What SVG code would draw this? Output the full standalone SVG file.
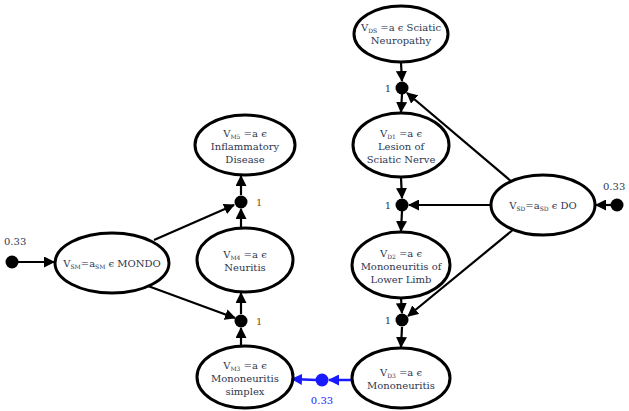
<svg xmlns="http://www.w3.org/2000/svg" width="629" height="411" viewBox="0 0 629 411">
<style>
.n ellipse{fill:#fff;stroke:#000;stroke-width:3}
.n text{font-family:"DejaVu Serif","Liberation Serif",serif;font-size:10px;fill:#2d3650;text-anchor:middle}
.sub{font-size:6px}
.e{stroke:#000;stroke-width:2.2;fill:none;marker-end:url(#ah)}
.b{stroke:#1a1aff;stroke-width:2.5;fill:none;marker-end:url(#ahb)}
.dot{fill:#000}
.lbl{font-family:"DejaVu Serif","Liberation Serif",serif;font-size:10px}
</style>
<defs>
<marker id="ah" markerWidth="11" markerHeight="11" refX="10" refY="5.5" orient="auto" markerUnits="userSpaceOnUse"><path d="M0,0 L11,5.5 L0,11 z" fill="#000"/></marker>
<marker id="ahb" markerWidth="11" markerHeight="11" refX="10" refY="5.5" orient="auto" markerUnits="userSpaceOnUse"><path d="M0,0 L11,5.5 L0,11 z" fill="#1a1aff"/></marker>
</defs>
<g id="edges">
<line class="e" x1="401" y1="63" x2="402" y2="81"/>
<line class="e" x1="402" y1="94" x2="401" y2="112"/>
<line class="e" x1="512" y1="182" x2="407" y2="93"/>
<line class="e" x1="401" y1="178" x2="402" y2="198"/>
<line class="e" x1="491" y1="205" x2="409" y2="205"/>
<line class="e" x1="402" y1="211" x2="401" y2="231"/>
<line class="e" x1="401" y1="298" x2="402" y2="313"/>
<line class="e" x1="514" y1="229" x2="408" y2="316"/>
<line class="e" x1="402" y1="327" x2="401" y2="347"/>
<line class="b" x1="352" y1="380" x2="329" y2="380"/>
<line class="b" x1="316" y1="380" x2="292" y2="379"/>
<line class="e" x1="241" y1="346" x2="241" y2="328"/>
<line class="e" x1="148" y1="286" x2="235" y2="318"/>
<line class="e" x1="241" y1="314" x2="241" y2="293"/>
<line class="e" x1="241" y1="228" x2="241" y2="209"/>
<line class="e" x1="154" y1="240" x2="234" y2="205"/>
<line class="e" x1="241" y1="195" x2="241" y2="176"/>
<line class="e" x1="14" y1="262" x2="54" y2="262"/>
<line class="e" x1="612" y1="205" x2="596" y2="205"/>
</g>
<g id="dots">
<circle class="dot" cx="402" cy="88" r="6.5"/>
<text class="lbl" x="391" y="92" fill="#2d3650" text-anchor="end">1</text>
<circle class="dot" cx="402" cy="205" r="6.5"/>
<text class="lbl" x="391" y="209" fill="#2d3650" text-anchor="end">1</text>
<circle class="dot" cx="402" cy="320" r="6.5"/>
<text class="lbl" x="391" y="324" fill="#2d3650" text-anchor="end">1</text>
<circle class="dot" cx="241" cy="202" r="6.5"/>
<text class="lbl" x="256" y="206" fill="#8a4a10">1</text>
<circle class="dot" cx="241" cy="321" r="6.5"/>
<text class="lbl" x="256" y="325" fill="#8a4a10">1</text>
<circle class="dot" cx="12" cy="262" r="6.5"/>
<text class="lbl" x="4" y="245" fill="#2d3650">0.33</text>
<circle class="dot" cx="617" cy="205" r="6.5"/>
<text class="lbl" x="603" y="190" fill="#2d3650">0.33</text>
<circle cx="322" cy="380" r="6.5" fill="#1a1aff"/>
<text class="lbl" x="322" y="404" fill="#1a1aff" text-anchor="middle">0.33</text>
</g>
<g id="DS" class="n"><ellipse cx="401" cy="34" rx="47" ry="28"/><text x="401" y="31">V<tspan class="sub" dy="2">DS</tspan><tspan dy="-2"> =a ϵ Sciatic</tspan></text><text x="401" y="44">Neuropathy</text></g>
<g id="D1" class="n"><ellipse cx="401" cy="145" rx="48" ry="32"/><text x="401" y="137">V<tspan class="sub" dy="2">D1</tspan><tspan dy="-2"> =a ϵ</tspan></text><text x="401" y="150">Lesion of</text><text x="401" y="163">Sciatic Nerve</text></g>
<g id="D2" class="n"><ellipse cx="401" cy="265" rx="49" ry="33"/><text x="401" y="257">V<tspan class="sub" dy="2">D2</tspan><tspan dy="-2"> =a ϵ</tspan></text><text x="401" y="270">Mononeuritis of</text><text x="401" y="283">Lower Limb</text></g>
<g id="D3" class="n"><ellipse cx="401" cy="378" rx="49" ry="30"/><text x="401" y="376">V<tspan class="sub" dy="2">D3</tspan><tspan dy="-2"> =a ϵ</tspan></text><text x="401" y="389">Mononeuritis</text></g>
<g id="SD" class="n"><ellipse cx="543" cy="205" rx="52" ry="30"/><text x="543" y="209">V<tspan class="sub" dy="2">SD</tspan><tspan dy="-2">=a</tspan><tspan class="sub" dy="2">SD</tspan><tspan dy="-2"> ϵ DO</tspan></text></g>
<g id="M5" class="n"><ellipse cx="245" cy="145" rx="50" ry="30"/><text x="245" y="137">V<tspan class="sub" dy="2">M5</tspan><tspan dy="-2"> =a ϵ</tspan></text><text x="245" y="150">Inflammatory</text><text x="245" y="163">Disease</text></g>
<g id="M4" class="n"><ellipse cx="245" cy="260" rx="48" ry="32"/><text x="245" y="258">V<tspan class="sub" dy="2">M4</tspan><tspan dy="-2"> =a ϵ</tspan></text><text x="245" y="271">Neuritis</text></g>
<g id="M3" class="n"><ellipse cx="245" cy="377" rx="48" ry="31"/><text x="245" y="369">V<tspan class="sub" dy="2">M3</tspan><tspan dy="-2"> =a ϵ</tspan></text><text x="245" y="382">Mononeuritis</text><text x="245" y="395">simplex</text></g>
<g id="SM" class="n"><ellipse cx="112" cy="263" rx="57" ry="30"/><text x="112" y="267">V<tspan class="sub" dy="2">SM</tspan><tspan dy="-2">=a</tspan><tspan class="sub" dy="2">SM</tspan><tspan dy="-2"> ϵ MONDO</tspan></text></g>
</svg>
